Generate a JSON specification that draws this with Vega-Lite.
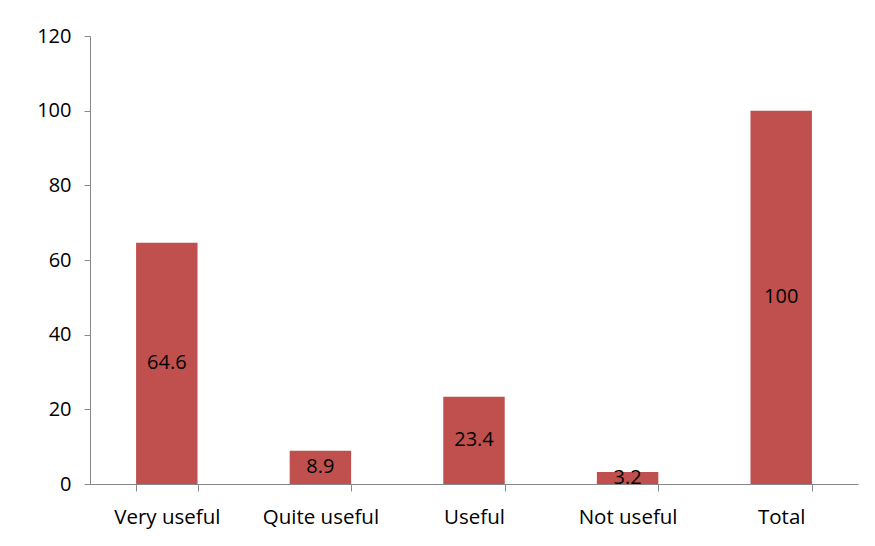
{
  "$schema": "https://vega.github.io/schema/vega-lite/v6.json",
  "autosize": "none",
  "width": 768,
  "height": 448,
  "padding": {"left": 90, "top": 36, "right": 17, "bottom": 62},
  "background": "white",
  "config": {"view": {"stroke": null}, "font": "Open Sans"},
  "data": {"values": [
    {"category": "Very useful", "value": 64.6},
    {"category": "Quite useful", "value": 8.9},
    {"category": "Useful", "value": 23.4},
    {"category": "Not useful", "value": 3.2},
    {"category": "Total", "value": 100}
  ]},
  "encoding": {
    "x": {"field": "category", "type": "nominal", "sort": null,
      "scale": {"paddingInner": 0.6, "paddingOuter": 0.3},
      "axis": {"title": null, "labelAngle": 0, "labelFontSize": 20.5, "labelColor": "black", "labelPadding": 16,
        "domainColor": "#888888", "tickColor": "#888888", "tickSize": 7, "tickBand": "extent"}},
    "y": {"field": "value", "type": "quantitative",
      "scale": {"domain": [0, 120]},
      "axis": {"title": null, "values": [0, 20, 40, 60, 80, 100, 120], "grid": false, "labelFontSize": 20, "labelColor": "black",
        "labelPadding": 13, "domainColor": "#888888", "tickColor": "#888888", "tickSize": 6}}
  },
  "layer": [
    {"mark": {"type": "bar", "color": "#C0504D"}},
    {"mark": {"type": "text", "fontSize": 20, "color": "black", "baseline": "middle"},
      "encoding": {"y": {"field": "mid", "type": "quantitative"}, "text": {"field": "value", "type": "quantitative"}},
      "transform": [{"calculate": "datum.value / 2", "as": "mid"}]}
  ]
}
